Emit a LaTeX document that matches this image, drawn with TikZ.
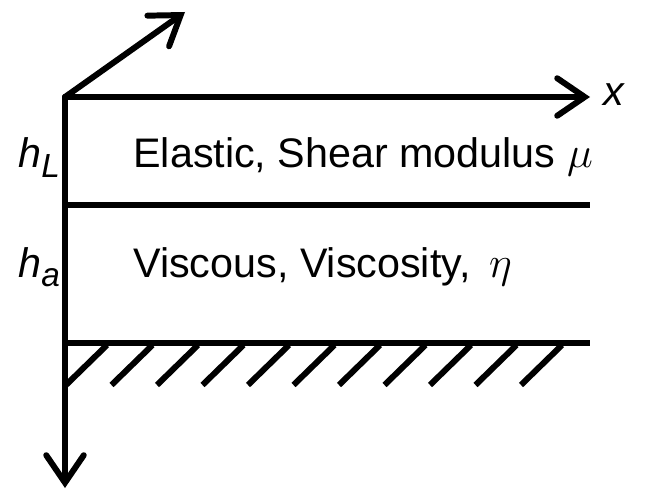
\documentclass[tikz,border=0pt]{standalone}
\usepackage{fontspec}
\setmainfont{Liberation Sans}
\usetikzlibrary{arrows.meta,calc,positioning}

\newcommand{\lowsub}[1]{\raisebox{-5.5pt}{\fontsize{19}{22}\selectfont #1}}

\begin{document}
\begin{tikzpicture}[x=0.02cm,y=-0.02cm,
    axis/.style={line width=3.4pt, line cap=round, -{Straight Barb[length=5.5mm,width=7.5mm,line cap=round]}},
    layer/.style={line width=3.4pt},
    hatch/.style={line width=3.4pt},
    layer text/.style={font=\fontsize{23.5}{26}\selectfont, anchor=base west, inner sep=0pt},
    depth label/.style={font=\fontsize{23.5}{26}\selectfont\itshape, anchor=base west, inner sep=0pt}
]

% Frame
\useasboundingbox (0,0) rectangle (648,493);

% Corner points
\coordinate (O) at (65,97);
\coordinate (xend) at (590,97);
\coordinate (yend) at (185,12);
\coordinate (zend) at (65,488);
\coordinate (midL) at (65,205);
\coordinate (midR) at (590,205);
\coordinate (baseL) at (65,343);
\coordinate (baseR) at (590,343);

% Axes
\draw[axis] (O) -- (xend);
\draw[axis] (O) -- (yend);
\draw[axis] (O) -- (zend);
\node[font=\fontsize{23.5}{26}\selectfont\itshape, anchor=west, inner sep=0pt] (xlab) at (603,95) {x};

% Layer boundaries
\draw[layer] (midL) -- (midR);
\draw[layer] (baseL) -- (baseR);

% Rigid base hatching
\foreach \i in {0,...,10}
  \draw[hatch] ($(66,385)+(45.5*\i,0)$) -- ++(41,-40);

% Layer texts
\node[layer text] (elastic) at (133,168) {Elastic, Shear modulus $\mu$};
\node[layer text] (viscous) at (133,277) {Viscous, Viscosity, \,$\eta$};

% Thickness labels
\node[depth label] (hL) at (18,168) {h\lowsub{L}};
\node[depth label] (ha) at (18,277) {h\lowsub{a}};

\end{tikzpicture}
\end{document}
